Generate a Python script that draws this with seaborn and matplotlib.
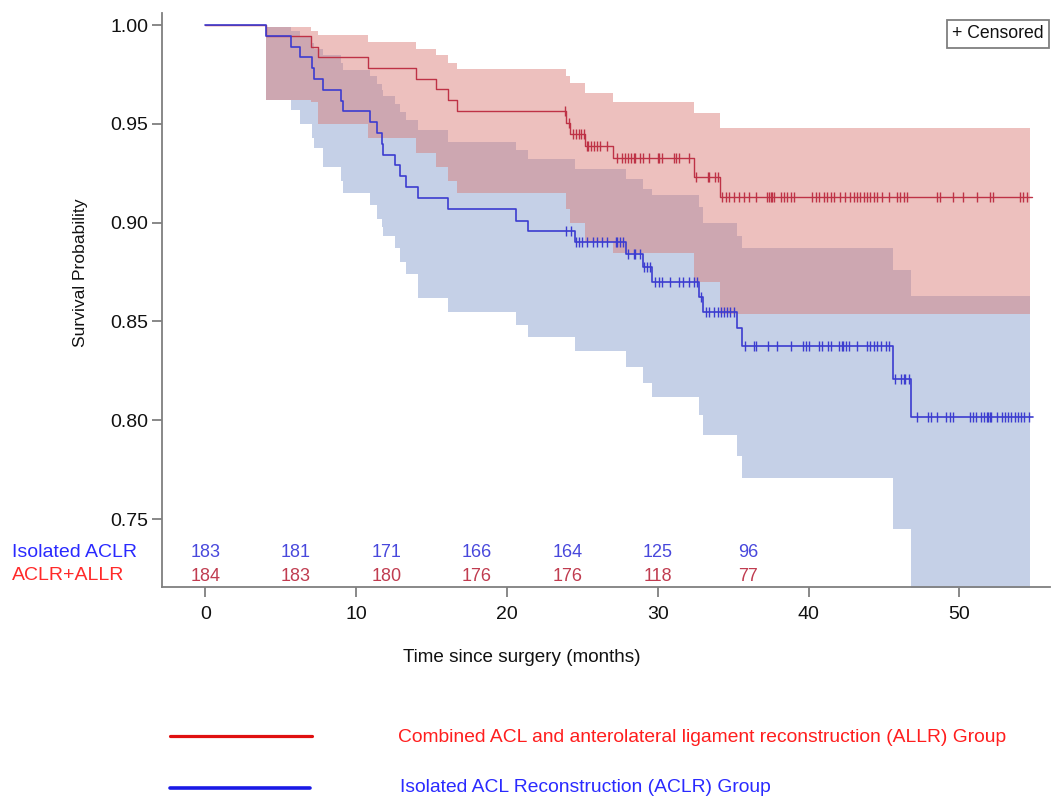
import numpy as np
import pandas as pd
import matplotlib
matplotlib.use("Agg")
import matplotlib.pyplot as plt
import matplotlib.transforms as mtransforms
from matplotlib.lines import Line2D
import seaborn as sns

# ============================
# DATA
# ============================

# Isolated ACLR group
blue_event_t = [4.0, 5.7, 6.3, 7.05, 7.2, 7.8, 9.0, 9.1, 10.9, 11.4,
                11.7, 11.8, 12.6, 12.9, 13.3, 14.1, 16.1, 20.6, 21.4, 24.5,
                27.9, 29.0, 29.6, 32.7, 33.0, 35.25, 35.6, 45.6, 46.8]
blue_surv = [0.9945, 0.9891, 0.9836, 0.9781, 0.9727, 0.9672, 0.9617, 0.9563, 0.9508, 0.9454,
             0.9399, 0.9344, 0.9290, 0.9235, 0.9180, 0.9126, 0.9071, 0.901, 0.896, 0.890,
             0.884, 0.8775, 0.870, 0.8624, 0.855, 0.8466, 0.8376, 0.8208, 0.8017]
blue_lower = [0.962, 0.957, 0.950, 0.943, 0.938, 0.928, 0.921, 0.915, 0.909, 0.902,
              0.898, 0.893, 0.887, 0.880, 0.874, 0.862, 0.855, 0.848, 0.842, 0.835,
              0.827, 0.819, 0.812, 0.8025, 0.7924, 0.782, 0.771, 0.745, 0.700]
blue_upper = [0.999, 0.997, 0.994, 0.991, 0.988, 0.985, 0.981, 0.977, 0.974, 0.970,
              0.967, 0.964, 0.960, 0.956, 0.952, 0.947, 0.941, 0.937, 0.932, 0.927,
              0.922, 0.917, 0.914, 0.908, 0.900, 0.893, 0.887, 0.876, 0.863]
blue_cens = [23.9, 24.25, 24.6, 24.8, 25.0, 25.3, 25.7, 26.0, 26.3, 26.6,
             27.2, 27.3, 27.5, 27.7, 28.0, 28.4, 28.5, 28.8, 29.1, 29.3,
             29.5, 29.8, 30.1, 30.3, 30.8, 31.4, 31.7, 32.1, 32.4, 32.6,
             32.85, 33.2, 33.4, 33.7, 34.0, 34.2, 34.4, 34.6, 34.8, 35.05,
             35.8, 36.4, 36.5, 37.3, 37.9, 38.8, 39.6, 39.8, 40.0, 40.7,
             40.9, 41.3, 41.5, 42.0, 42.2, 42.3, 42.5, 42.7, 43.2, 43.9,
             44.1, 44.3, 44.5, 44.8, 45.1, 45.3, 45.7, 46.1, 46.3, 46.4,
             46.65, 47.2, 47.9, 48.1, 48.5, 49.1, 49.4, 49.6, 50.7, 50.9,
             51.1, 51.4, 51.6, 51.8, 51.9, 52.0, 52.1, 52.5, 52.8, 53.0,
             53.2, 53.4, 53.7, 53.9, 54.1, 54.3, 54.6]
blue_end = 54.85

# ACLR + ALLR group
red_event_t = [4.0, 7.0, 7.5, 10.8, 14.0, 15.3, 16.1, 16.7, 23.9, 24.2,
               25.2, 27.0, 32.4, 34.1]
red_surv = [0.9946, 0.9891, 0.9837, 0.9783, 0.9728, 0.9674, 0.9620, 0.9565, 0.9505, 0.945,
            0.939, 0.9327, 0.923, 0.913]
red_lower = [0.962, 0.961, 0.950, 0.943, 0.935, 0.928, 0.921, 0.915, 0.907, 0.900,
             0.890, 0.8846, 0.870, 0.854]
red_upper = [0.999, 0.997, 0.995, 0.9916, 0.988, 0.985, 0.981, 0.978, 0.974, 0.9706,
             0.9656, 0.961, 0.9554, 0.948]
red_cens = [23.85, 24.1, 24.4, 24.6, 24.8, 24.9, 25.1, 25.3, 25.4, 25.6,
            25.8, 26.0, 26.2, 26.6, 27.3, 27.6, 27.8, 28.0, 28.2, 28.4,
            28.5, 28.8, 29.0, 29.4, 30.0, 30.1, 30.3, 31.1, 31.2, 31.4,
            32.1, 32.5, 33.3, 33.4, 33.8, 34.0, 34.28, 34.5, 34.72, 35.05,
            35.38, 35.71, 36.04, 36.49, 37.26, 37.37, 37.48, 37.59, 37.7, 38.14,
            38.36, 38.58, 38.8, 39.02, 40.23, 40.46, 40.67, 41.0, 41.22, 41.45,
            41.67, 42.11, 42.44, 42.77, 43.0, 43.2, 43.43, 43.65, 43.87, 44.09,
            44.31, 44.53, 44.86, 45.3, 45.85, 46.08, 46.3, 46.51, 48.5, 48.72,
            49.6, 50.26, 51.14, 52.03, 52.25, 54.01, 54.23, 54.45]
red_end = 54.8

band_end = 54.65

# number at risk
risk_times = [0, 6, 12, 18, 24, 30, 36]
risk_blue = [183, 181, 171, 166, 164, 125, 96]
risk_red = [184, 183, 180, 176, 176, 118, 77]

x_ticks = [0, 10, 20, 30, 40, 50]
y_ticks = [0.75, 0.80, 0.85, 0.90, 0.95, 1.00]

# ============================
# STYLE
# ============================

BLUE_LINE = "#3c3cd0"
RED_LINE = "#be3246"
BLUE_BAND = "#c5d0e7"
RED_BAND = "#d87570"
GREY = "#7f7f7f"

sns.set_theme(style="ticks")
plt.rcParams['font.family'] = ['Liberation Sans', 'DejaVu Sans']


def step_frame(event_t, surv, end_t):
    t = [0.0] + list(event_t) + [end_t]
    s = [1.0] + list(surv) + [surv[-1]]
    return pd.DataFrame({"time": t, "surv": s})


def surv_at(times, event_t, surv):
    idx = np.searchsorted(np.asarray(event_t), np.asarray(times), side="right")
    s = np.concatenate([[1.0], surv])
    return s[idx]


fig = plt.figure(figsize=(10.52, 7.97), dpi=100)
ax = fig.add_axes([162 / 1052, (797 - 587) / 797, (1050 - 162) / 1052, (587 - 13) / 797])

# confidence bands
ax.fill_between(np.r_[blue_event_t, band_end], np.r_[blue_lower, blue_lower[-1]],
                np.r_[blue_upper, blue_upper[-1]], step="post", color=BLUE_BAND, lw=0, zorder=1)
ax.fill_between(np.r_[red_event_t, band_end], np.r_[red_lower, red_lower[-1]],
                np.r_[red_upper, red_upper[-1]], step="post", color=RED_BAND, alpha=0.45,
                lw=0, zorder=1.5)

# survival curves
red_df = step_frame(red_event_t, red_surv, red_end)
blue_df = step_frame(blue_event_t, blue_surv, blue_end)
sns.lineplot(data=red_df, x="time", y="surv", drawstyle="steps-post", estimator=None,
             sort=False, color=RED_LINE, linewidth=1.0, ax=ax, zorder=3)
sns.lineplot(data=blue_df, x="time", y="surv", drawstyle="steps-post", estimator=None,
             sort=False, color=BLUE_LINE, linewidth=1.2, ax=ax, zorder=3)

# censored marks
sns.scatterplot(x=red_cens, y=surv_at(red_cens, red_event_t, red_surv), marker="|",
                s=60, linewidth=1.0, color=RED_LINE, ax=ax, zorder=4, legend=False)
sns.scatterplot(x=blue_cens, y=surv_at(blue_cens, blue_event_t, blue_surv), marker="|",
                s=60, linewidth=1.0, color=BLUE_LINE, ax=ax, zorder=4, legend=False)

ax.set_xlim(-2.87, 56.0)
ax.set_ylim(0.7156, 1.0061)
ax.set_xticks(x_ticks)
ax.set_yticks(y_ticks)
ax.set_yticklabels([f"{v:.2f}" for v in y_ticks])
ax.set_xlabel("")
ax.set_ylabel("")
for side in ["top", "right"]:
    ax.spines[side].set_visible(False)
for side in ["left", "bottom"]:
    ax.spines[side].set_color(GREY)
    ax.spines[side].set_linewidth(1.3)
ax.tick_params(axis="both", direction="out", length=7, width=1.3, color=GREY,
               labelsize=14, labelcolor="#111111")
ax.tick_params(axis="x", pad=7)
ax.tick_params(axis="y", pad=3)

# numbers at risk inside the axes
trans = mtransforms.blended_transform_factory(ax.transData, ax.transAxes)
for t, nb, nr in zip(risk_times, risk_blue, risk_red):
    ax.text(t, 0.0593, str(nb), transform=trans, ha="center", va="center",
            fontsize=13, color="#4848dc")
    ax.text(t, 0.0187, str(nr), transform=trans, ha="center", va="center",
            fontsize=13, color="#c03c50")

fig.text(12 / 1052, 1 - 552.7 / 797, "Isolated ACLR", ha="left", va="center",
         fontsize=14, color="#2a2aff")
fig.text(12 / 1052, 1 - 576 / 797, "ACLR+ALLR", ha="left", va="center",
         fontsize=14, color="#ff2a2a")

# axis labels
fig.text(80 / 1052, 1 - 273 / 797, "Survival Probability", rotation=90,
         ha="center", va="center", fontsize=12.6, color="#111111")
fig.text(522 / 1052, 1 - 657 / 797, "Time since surgery (months)",
         ha="center", va="center", fontsize=13.6, color="#111111")

# censored box
fig.text(998 / 1052, 1 - 34 / 797, "+ Censored", ha="center", va="center",
         fontsize=12.7, color="#111111",
         bbox=dict(boxstyle="square,pad=0.32", fc="white", ec=GREY, lw=1.3))

# group legend below the plot
fig.add_artist(Line2D([170 / 1052, 312 / 1052], [1 - 736 / 797, 1 - 736 / 797],
                      transform=fig.transFigure, color="#e01010", lw=2.3))
fig.add_artist(Line2D([170 / 1052, 310 / 1052], [1 - 788 / 797, 1 - 788 / 797],
                      transform=fig.transFigure, color="#1a1ae6", lw=2.6))
fig.text(398 / 1052, 1 - 737 / 797,
         "Combined ACL and anterolateral ligament reconstruction (ALLR) Group",
         ha="left", va="center", fontsize=13.9, color="#ff1e1e")
fig.text(400 / 1052, 1 - 788 / 797, "Isolated ACL Reconstruction (ACLR) Group",
         ha="left", va="center", fontsize=13.9, color="#2a2aff")

fig.savefig("out.png", dpi=100)
